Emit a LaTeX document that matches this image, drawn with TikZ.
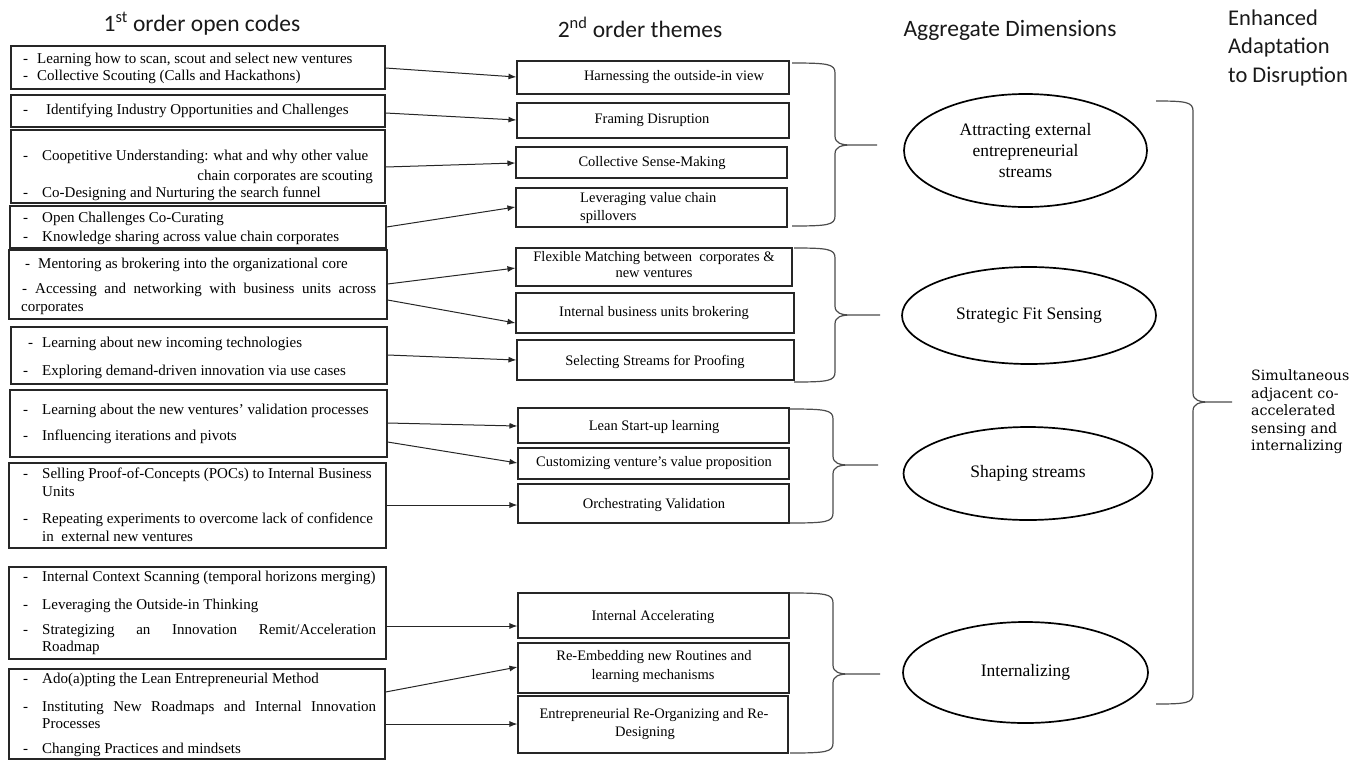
\documentclass[tikz,border=0pt]{standalone}
\usepackage{fontspec}
\setmainfont{Liberation Serif}
\newfontfamily\headfont{Carlito}
\newfontfamily\notefont{DejaVu Serif}
\usetikzlibrary{arrows.meta,shapes.geometric,fit}

% one bulleted line of a first-order code: name, x of dash, x of text, y, text
\newcommand{\codeitem}[5]{\node[code] (#1) at (#2,#4) {\makebox[\dimexpr #3pt-#2pt\relax][l]{-}#5};}
% continuation line of a first-order code
\newcommand{\codetext}[4]{\node[code] (#1) at (#2,#3) {#4};}
% curly brace: left x, top y, bottom y, spine x, tip x, tip y
\newcommand{\curly}[6]{%
  \draw[brace] (#1,#2) .. controls (#4-7,#2) and (#4,#2+1) .. (#4,#2+10)
    -- (#4,#6-9) .. controls (#4,#6-2) and (#4+6,#6) .. (#4+16,#6) -- (#5,#6)
    (#4+16,#6) .. controls (#4+6,#6) and (#4,#6+2) .. (#4,#6+9)
    -- (#4,#3-10) .. controls (#4,#3-1) and (#4-7,#3) .. (#1,#3);}

\begin{document}
\begin{tikzpicture}[x=1pt,y=-1pt,
  codebox/.style={draw=black!85, line width=1.2pt, inner sep=0pt},
  themebox/.style={draw=black!85, line width=1.1pt, inner sep=0pt},
  code/.style={anchor=west, inner sep=0pt, font=\fontsize{15}{18}\selectfont,
    text height=10pt, text depth=3pt},
  themetxt/.style={inner sep=0pt, font=\fontsize{14.5}{17}\selectfont,
    text height=10pt, text depth=3pt},
  dimension/.style={ellipse, draw=black, line width=1.7pt, inner sep=0pt,
    align=center, font=\fontsize{17.5}{21}\selectfont},
  head/.style={inner sep=0pt, font=\headfont\fontsize{23.5}{28}\selectfont,
    text=black!90},
  outcome/.style={head, anchor=west, font=\headfont\fontsize{22.5}{28}\selectfont},
  note/.style={anchor=west, inner sep=0pt, font=\notefont\fontsize{14.2}{17.5}\selectfont,
    text height=9.5pt, text depth=3pt},
  link/.style={draw=black!85, line width=1pt, -{Latex[length=8pt,width=6pt]}},
  brace/.style={draw=black!70, line width=1.2pt}]

\useasboundingbox (0,0) rectangle (1372,761);

% column headings
\node[head] (h1) at (202,24) {1\textsuperscript{st} order open codes};
\node[head] (h2) at (640,27) {2\textsuperscript{nd} order themes};
\node[head] (h3) at (1010,30) {Aggregate Dimensions};
\node[outcome] (h4a) at (1228,18) {Enhanced};
\node[outcome] (h4b) at (1228,47) {Adaptation};
\node[outcome] (h4c) at (1228,77) {to Disruption};

% first-order code boxes
\node[codebox, fit={(11,46) (385,89)}] (L1) {};
\node[codebox, fit={(11,95) (385,127)}] (L2) {};
\node[codebox, fit={(11,130) (385,203)}] (L3) {};
\node[codebox, fit={(10,206) (386,248)}] (L4) {};
\node[codebox, fit={(9,250) (387,319)}] (L5) {};
\node[codebox, fit={(11,327) (387,384)}] (L6) {};
\node[codebox, fit={(10,390) (387,457)}] (L7) {};
\node[codebox, fit={(9,463) (386,548)}] (L8) {};
\node[codebox, fit={(9,567) (386,659)}] (L9) {};
\node[codebox, fit={(9,669) (385,759)}] (L10) {};

\codeitem{c1a}{23}{37}{60}{Learning how to scan, scout and select new ventures}
\codeitem{c1b}{23}{37}{77}{Collective Scouting (Calls and Hackathons)}
\codeitem{c2a}{23}{46}{111}{Identifying Industry Opportunities and Challenges}
\codeitem{c3a}{23}{42}{157}{Coopetitive Understanding: what and why other value}
\node[code, anchor=east] (c3b) at (373,177) {chain corporates are scouting};
\codeitem{c3c}{23}{42}{194}{Co-Designing and Nurturing the search funnel}
\codeitem{c4a}{23}{42}{219}{Open Challenges Co-Curating}
\codeitem{c4b}{23}{42}{238}{Knowledge sharing across value chain corporates}
\codeitem{c5a}{25}{38}{265}{Mentoring as brokering into the organizational core}
\codeitem{c5b}{22}{35}{290}{\makebox[341pt][s]{Accessing and networking with business units across}}
\codetext{c5c}{21}{308}{corporates}
\codeitem{c6a}{28}{42}{344}{Learning about new incoming technologies}
\codeitem{c6b}{23}{42}{372}{Exploring demand-driven innovation via use cases}
\codeitem{c7a}{23}{42}{411}{Learning about the new ventures’ validation processes}
\codeitem{c7b}{23}{42}{437}{Influencing iterations and pivots}
\codeitem{c8a}{23}{42}{475}{Selling Proof-of-Concepts (POCs) to Internal Business}
\codetext{c8b}{42}{493}{Units}
\codeitem{c8c}{23}{42}{520}{Repeating experiments to overcome lack of confidence}
\codetext{c8d}{42}{538}{in\ \ external new ventures}
\codeitem{c9a}{23}{42}{578}{Internal Context Scanning (temporal horizons merging)}
\codeitem{c9b}{23}{42}{606}{Leveraging the Outside-in Thinking}
\codeitem{c9c}{23}{42}{631}{\makebox[334pt][s]{Strategizing an Innovation Remit/Acceleration}}
\codetext{c9d}{42}{648}{Roadmap}
\codeitem{c10a}{23}{42}{680}{Ado(a)pting the Lean Entrepreneurial Method}
\codeitem{c10b}{23}{42}{708}{\makebox[334pt][s]{Instituting New Roadmaps and Internal Innovation}}
\codetext{c10c}{42}{725}{Processes}
\codeitem{c10d}{23}{42}{750}{Changing Practices and mindsets}

% second-order theme boxes
\node[themebox, fit={(517,61) (789,94)}] (M1) {};
\node[themebox, fit={(517,103) (789,138)}] (M2) {};
\node[themebox, fit={(516,147) (787,178)}] (M3) {};
\node[themebox, fit={(516,188) (787,227)}] (M4) {};
\node[themebox, fit={(516,248) (792,286)}] (M5) {};
\node[themebox, fit={(516,293) (794,333)}] (M6) {};
\node[themebox, fit={(517,340) (794,380)}] (M7) {};
\node[themebox, fit={(518,408) (789,443)}] (M8) {};
\node[themebox, fit={(518,448) (789,479)}] (M9) {};
\node[themebox, fit={(518,484) (789,523)}] (M10) {};
\node[themebox, fit={(518,593) (789,638)}] (M11) {};
\node[themebox, fit={(518,643) (789,693)}] (M12) {};
\node[themebox, fit={(518,696) (788,753)}] (M13) {};

\node[themetxt] (t1) at (674,77) {Harnessing the outside-in view};
\node[themetxt] (t2) at (652,120) {Framing Disruption};
\node[themetxt] (t3) at (652,163) {Collective Sense-Making};
\node[themetxt, anchor=west] (t4a) at (580,199) {Leveraging value chain};
\node[themetxt, anchor=west] (t4b) at (580,217) {spillovers};
\node[themetxt] (t5a) at (654,258) {Flexible Matching between\ \ corporates \&};
\node[themetxt] (t5b) at (654,274) {new ventures};
\node[themetxt] (t6) at (654,313) {Internal business units brokering};
\node[themetxt] (t7) at (655,362) {Selecting Streams for Proofing};
\node[themetxt] (t8) at (654,427) {Lean Start-up learning};
\node[themetxt] (t9) at (654,463) {Customizing venture’s value proposition};
\node[themetxt] (t10) at (654,505) {Orchestrating Validation};
\node[themetxt] (t11) at (653,617) {Internal Accelerating};
\node[themetxt] (t12a) at (654,657) {Re-Embedding new Routines and};
\node[themetxt] (t12b) at (653,676) {learning mechanisms};
\node[themetxt] (t13a) at (654,715) {Entrepreneurial Re-Organizing and Re-};
\node[themetxt] (t13b) at (645,733) {Designing};

% codes feeding themes
\draw[link] (L1.east |- 0,68) -- (M1.west |- 0,77);
\draw[link] (L2.east |- 0,113) -- (M2.west |- 0,120);
\draw[link] (L3.east |- 0,167) -- (M3.west |- 0,163);
\draw[link] (L4.east |- 0,227) -- (M4.west |- 0,207);
\draw[link] (L5.east |- 0,284) -- (M5.west |- 0,268);
\draw[link] (L5.east |- 0,300) -- (M6.west |- 0,323);
\draw[link] (L6.east |- 0,355) -- (M7.west |- 0,360);
\draw[link] (L7.east |- 0,423) -- (M8.west |- 0,426);
\draw[link] (L7.east |- 0,442) -- (M9.west |- 0,463);
\draw[link] (L8.east |- 0,505) -- (M10.west |- 0,505);
\draw[link] (L9.east |- 0,626) -- (M11.west |- 0,626);
\draw[link] (L10.east |- 0,692) -- (M12.west |- 0,667);
\draw[link] (L10.east |- 0,724) -- (M13.west |- 0,724);

% aggregate dimensions
\node[dimension, minimum width=243pt, minimum height=113pt] (E1) at (1025.5,150.5)
  {Attracting external\\entrepreneurial\\streams};
\node[dimension, minimum width=254pt, minimum height=97pt] (E2) at (1029,315.5)
  {Strategic Fit Sensing};
\node[dimension, minimum width=249pt, minimum height=93pt] (E3) at (1028,473.5)
  {Shaping streams};
\node[dimension, minimum width=245pt, minimum height=101pt] (E4) at (1025.5,672.5)
  {Internalizing};

% themes grouped into dimensions
\curly{792}{63}{226}{835}{877}{145}
\curly{794}{248}{382}{835}{880}{315}
\curly{790}{409}{523}{833}{878}{465}
\curly{790}{593}{753}{833}{880}{674}

% dimensions grouped into the outcome
\curly{1156}{101}{704}{1193}{1232}{402}

\node[note] (s1) at (1251,377) {Simultaneous};
\node[note] (s2) at (1251,395) {adjacent co-};
\node[note] (s3) at (1251,412) {accelerated};
\node[note] (s4) at (1251,430) {sensing and};
\node[note] (s5) at (1251,447) {internalizing};

\end{tikzpicture}
\end{document}
